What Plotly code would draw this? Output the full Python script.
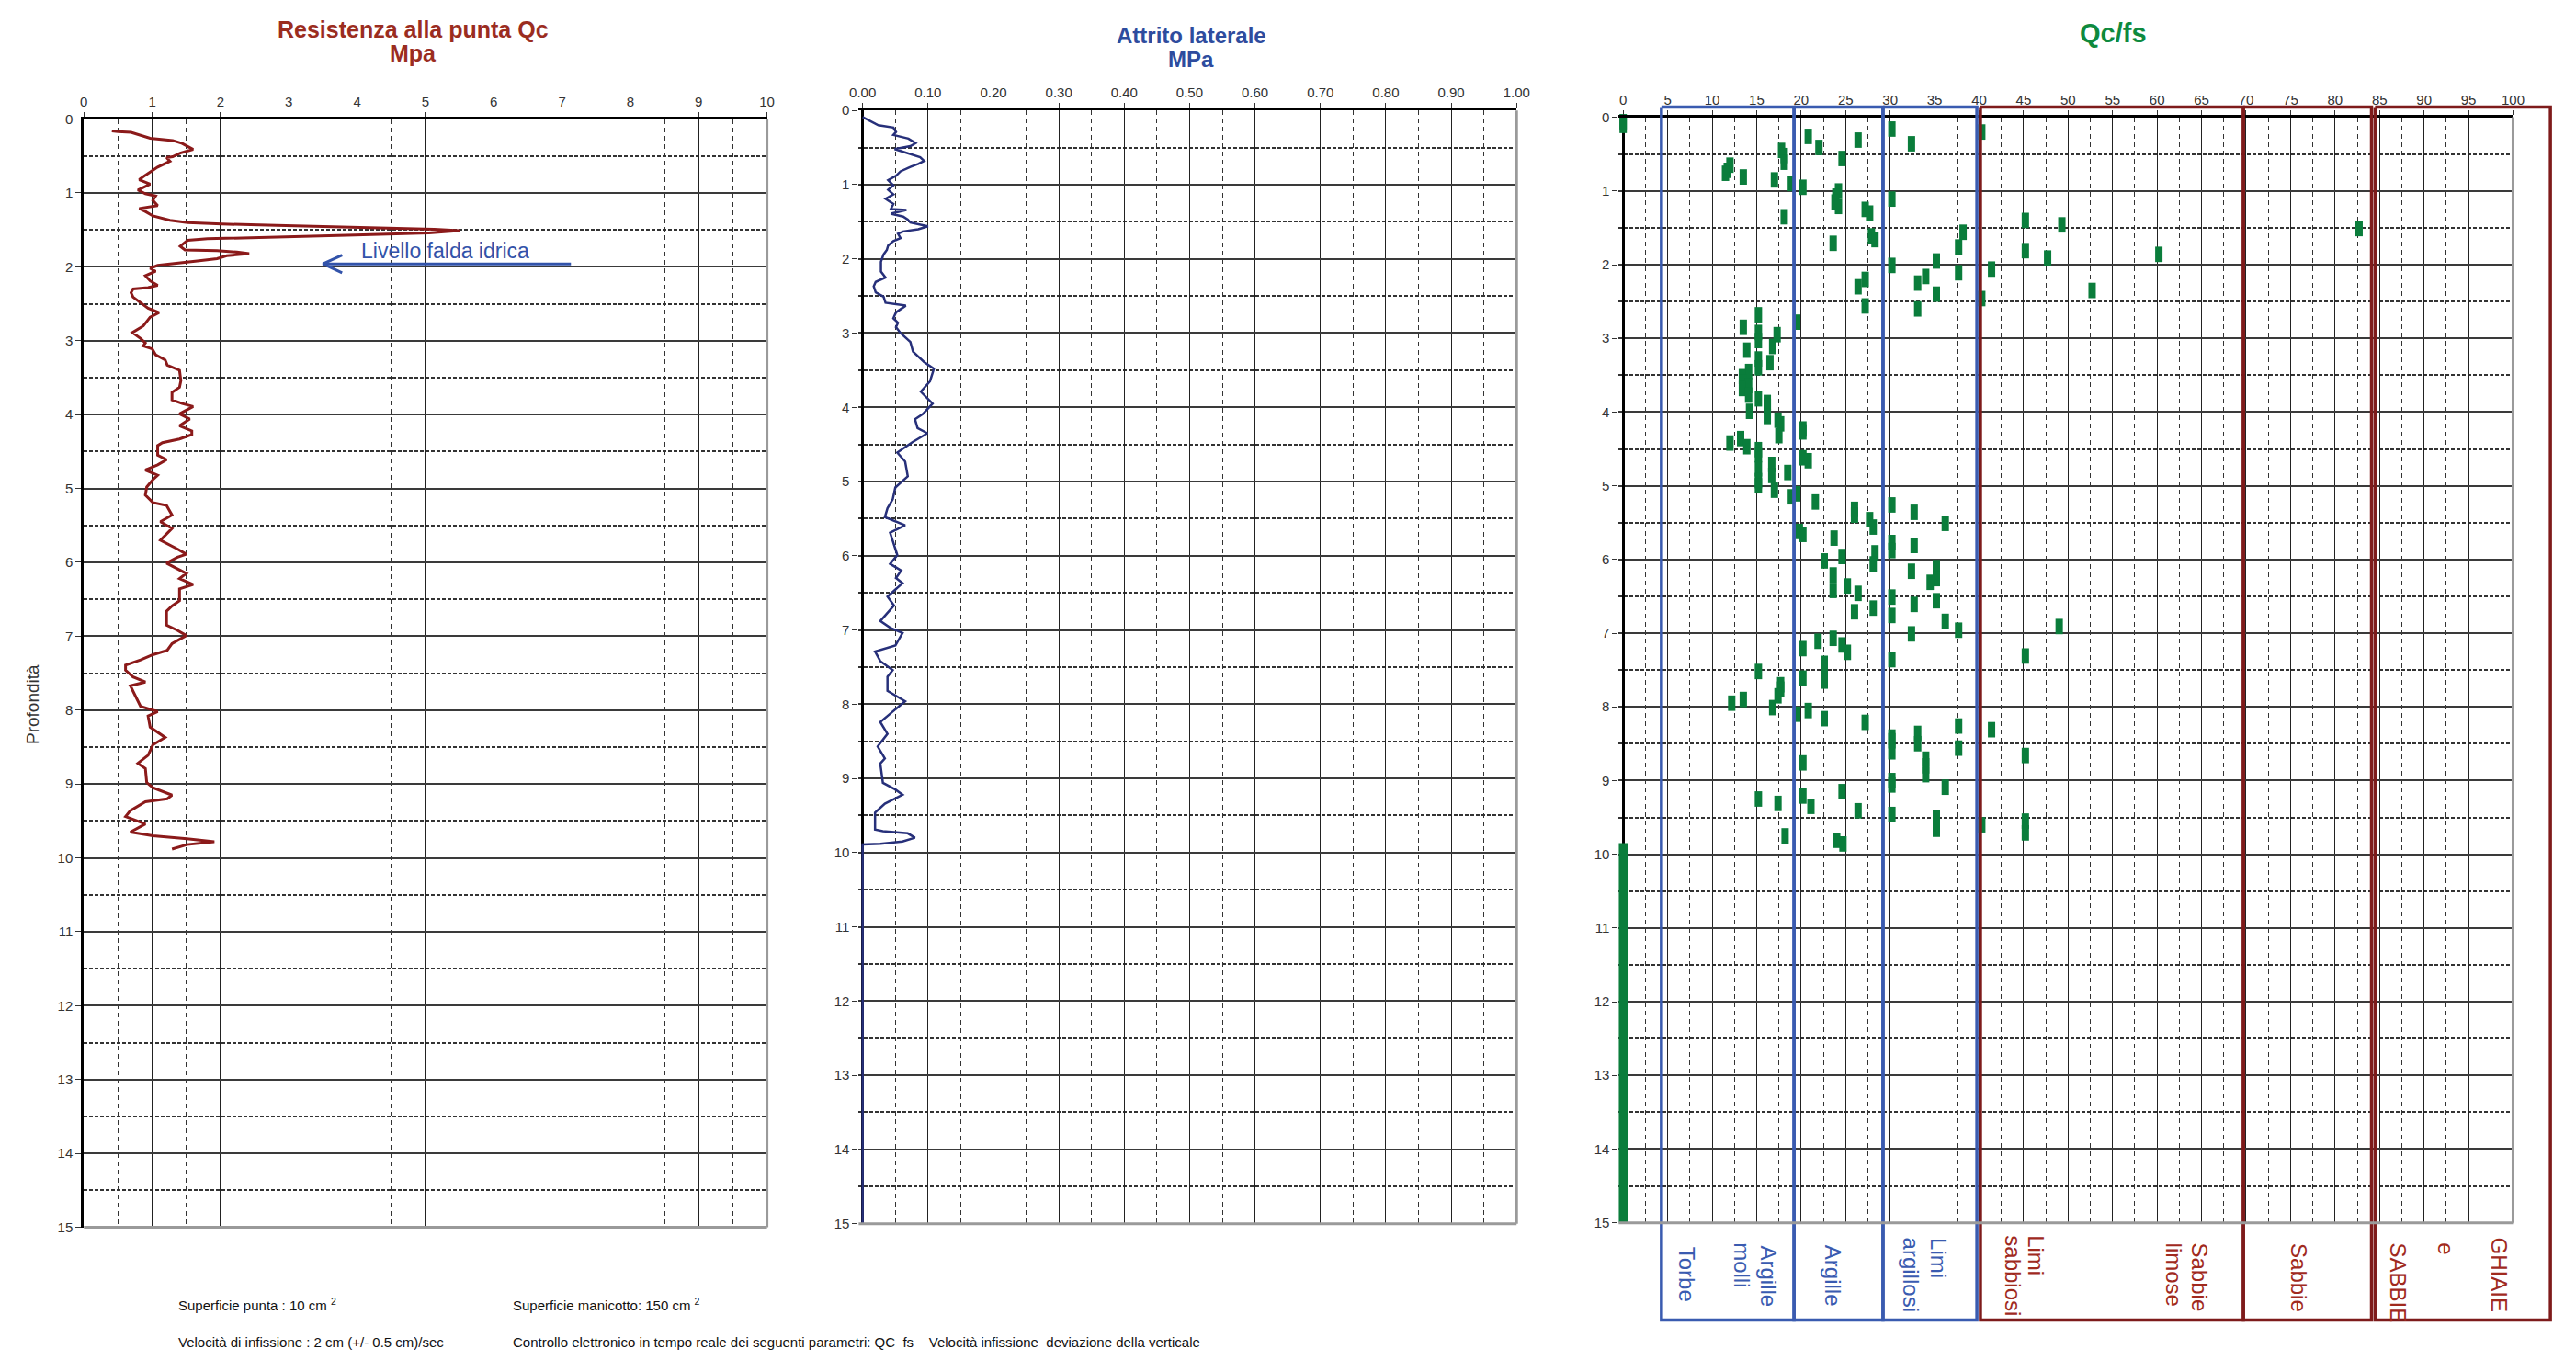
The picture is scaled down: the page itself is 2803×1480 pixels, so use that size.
import plotly.graph_objects as go

W, H = 2803, 1480
FONT = 'Liberation Sans, Arial, Helvetica, sans-serif'

# Resistenza alla punta Qc (MPa) lungo la profondità (m)
qc_depth = [0.16, 0.17, 0.18, 0.26, 0.29, 0.33, 0.41, 0.46, 0.51, 0.52, 0.57, 0.65, 0.78, 0.82, 0.88, 0.96,
            1.01, 1.04, 1.10, 1.17, 1.21, 1.25, 1.31, 1.37, 1.40, 1.42, 1.44, 1.46, 1.48, 1.49, 1.51, 1.54,
            1.57, 1.60, 1.62, 1.64, 1.72, 1.77, 1.78, 1.80, 1.82, 1.85, 1.89, 1.92, 1.96, 1.98, 2.02, 2.06,
            2.12, 2.19, 2.25, 2.28, 2.30, 2.35, 2.41, 2.49, 2.56, 2.62, 2.68, 2.80, 2.89, 2.97, 3.03, 3.07,
            3.11, 3.19, 3.26, 3.33, 3.40, 3.54, 3.63, 3.70, 3.80, 3.85, 3.89, 3.99, 4.06, 4.15, 4.22, 4.27,
            4.33, 4.38, 4.42, 4.55, 4.61, 4.68, 4.75, 4.82, 4.88, 4.98, 5.09, 5.19, 5.23, 5.36, 5.45, 5.54,
            5.70, 5.82, 5.89, 5.93, 6.01, 6.15, 6.22, 6.30, 6.36, 6.52, 6.59, 6.66, 6.85, 6.92, 6.99, 7.10,
            7.19, 7.25, 7.32, 7.39, 7.46, 7.55, 7.62, 7.67, 7.81, 7.95, 8.02, 8.08, 8.23, 8.37, 8.47, 8.61,
            8.72, 8.79, 8.98, 9.05, 9.15, 9.20, 9.24, 9.36, 9.44, 9.54, 9.65, 9.70, 9.74, 9.78, 9.82, 9.88]
qc_value = [0.41, 0.50, 0.69, 0.97, 1.30, 1.44, 1.60, 1.41, 1.30, 1.21, 1.26, 1.08, 0.87, 0.81, 0.97, 0.79,
            0.90, 1.05, 1.01, 1.08, 0.81, 0.90, 1.01, 1.26, 1.52, 2.02, 2.82, 3.61, 4.48, 5.13, 5.50, 5.05,
            3.97, 2.53, 1.81, 1.52, 1.41, 1.48, 1.95, 2.24, 2.42, 2.09, 1.95, 1.66, 1.30, 1.08, 0.97, 1.05,
            0.90, 0.97, 1.08, 0.94, 0.72, 0.69, 0.72, 0.83, 0.94, 1.10, 0.97, 0.87, 0.71, 0.83, 0.90, 0.87,
            1.00, 1.05, 1.19, 1.22, 1.40, 1.42, 1.40, 1.29, 1.29, 1.44, 1.60, 1.40, 1.55, 1.40, 1.58, 1.58,
            1.40, 1.15, 1.08, 1.08, 1.21, 1.08, 0.90, 1.08, 1.01, 0.92, 0.90, 1.01, 1.21, 1.29, 1.12, 1.29,
            1.12, 1.37, 1.50, 1.37, 1.21, 1.50, 1.40, 1.60, 1.40, 1.40, 1.29, 1.21, 1.21, 1.37, 1.50, 1.29,
            1.22, 1.01, 0.83, 0.61, 0.61, 0.72, 0.90, 0.68, 0.76, 0.83, 1.08, 0.94, 0.97, 1.19, 1.01, 0.94,
            0.79, 0.90, 0.92, 1.01, 1.29, 1.22, 0.90, 0.68, 0.61, 0.90, 0.68, 1.01, 1.51, 1.91, 1.51, 1.29]

# Attrito laterale fs (MPa)
fs_depth = [0.09, 0.15, 0.20, 0.23, 0.29, 0.33, 0.38, 0.44, 0.48, 0.52, 0.58, 0.63, 0.68, 0.72, 0.76, 0.82,
            0.88, 0.94, 1.01, 1.07, 1.13, 1.19, 1.26, 1.33, 1.34, 1.39, 1.43, 1.47, 1.51, 1.56, 1.60, 1.63,
            1.66, 1.72, 1.76, 1.82, 1.88, 1.94, 2.04, 2.17, 2.25, 2.31, 2.37, 2.45, 2.51, 2.59, 2.63, 2.72,
            2.80, 2.86, 2.92, 3.00, 3.12, 3.25, 3.39, 3.48, 3.65, 3.79, 3.95, 4.09, 4.16, 4.28, 4.35, 4.47,
            4.61, 4.73, 4.93, 5.08, 5.24, 5.36, 5.48, 5.59, 5.69, 5.90, 5.99, 6.11, 6.20, 6.30, 6.37, 6.55,
            6.67, 6.88, 6.97, 7.04, 7.21, 7.29, 7.42, 7.54, 7.63, 7.82, 7.96, 8.10, 8.24, 8.40, 8.57, 8.73,
            8.80, 9.06, 9.15, 9.22, 9.34, 9.46, 9.69, 9.71, 9.74, 9.80, 9.85, 9.88, 9.89, 15.0]
fs_value = [0.000, 0.013, 0.024, 0.047, 0.051, 0.047, 0.070, 0.081, 0.073, 0.049, 0.069, 0.088, 0.094, 0.085,
            0.073, 0.058, 0.051, 0.039, 0.047, 0.039, 0.047, 0.035, 0.047, 0.043, 0.067, 0.043, 0.062, 0.069,
            0.073, 0.100, 0.085, 0.062, 0.054, 0.058, 0.047, 0.039, 0.037, 0.032, 0.028, 0.028, 0.035, 0.020,
            0.017, 0.020, 0.032, 0.035, 0.066, 0.051, 0.047, 0.054, 0.051, 0.058, 0.073, 0.077, 0.094, 0.109,
            0.103, 0.089, 0.107, 0.092, 0.080, 0.084, 0.099, 0.076, 0.053, 0.065, 0.069, 0.050, 0.046, 0.038,
            0.034, 0.065, 0.042, 0.050, 0.053, 0.042, 0.059, 0.051, 0.061, 0.038, 0.048, 0.027, 0.042, 0.061,
            0.050, 0.019, 0.027, 0.046, 0.038, 0.038, 0.065, 0.046, 0.027, 0.038, 0.023, 0.034, 0.027, 0.031,
            0.050, 0.061, 0.034, 0.019, 0.019, 0.031, 0.069, 0.080, 0.061, 0.027, 0.000, 0.000]

# Rapporto Qc/fs
ratio_depth = [0.06, 0.11, 0.16, 0.20, 0.26, 0.31, 0.36, 0.41, 0.45, 0.52, 0.56, 0.61, 0.65, 0.72, 0.76, 0.81,
               0.85, 0.90, 0.95, 1.00, 1.07, 1.11, 1.15, 1.21, 1.25, 1.30, 1.35, 1.40, 1.46, 1.51, 1.56, 1.61,
               1.66, 1.71, 1.76, 1.81, 1.86, 1.91, 1.95, 2.01, 2.06, 2.11, 2.16, 2.20, 2.25, 2.30, 2.35, 2.40,
               2.46, 2.56, 2.60, 2.68, 2.78, 2.85, 2.92, 2.95, 3.03, 3.11, 3.16, 3.28, 3.33, 3.40, 3.45, 3.52,
               3.59, 3.64, 3.68, 3.77, 3.82, 3.87, 3.92, 3.99, 4.06, 4.11, 4.16, 4.23, 4.27, 4.32, 4.36, 4.42,
               4.47, 4.51, 4.58, 4.62, 4.66, 4.71, 4.77, 4.82, 4.86, 4.93, 5.00, 5.06, 5.11, 5.15, 5.22, 5.26,
               5.32, 5.36, 5.40, 5.46, 5.51, 5.56, 5.62, 5.66, 5.71, 5.77, 5.81, 5.88, 5.91, 5.96, 6.02, 6.06,
               6.11, 6.16, 6.21, 6.26, 6.31, 6.36, 6.42, 6.46, 6.51, 6.56, 6.61, 6.66, 6.71, 6.76, 6.84, 6.91,
               6.96, 7.01, 7.07, 7.11, 7.16, 7.21, 7.26, 7.31, 7.36, 7.41, 7.47, 7.52, 7.61, 7.65, 7.70, 7.76,
               7.85, 7.90, 7.95, 8.01, 8.05, 8.10, 8.16, 8.21, 8.26, 8.31, 8.36, 8.41, 8.46, 8.50, 8.56, 8.61,
               8.66, 8.71, 8.76, 8.80, 8.92, 9.00, 9.06, 9.09, 9.15, 9.21, 9.25, 9.31, 9.35, 9.41, 9.46, 9.51,
               9.55, 9.60, 9.66, 9.71, 9.75, 9.81, 9.86]
ratio_value = [0.0, 0.0, 30.2, 40.3, 20.8, 26.4, 32.4, 22.0, 17.8, 18.1, 24.6, 18.1, 12.0, 11.7, 11.5, 13.5,
               17.0, 18.9, 20.2, 24.2, 23.9, 30.2, 23.8, 24.2, 27.2, 27.7, 18.1, 45.2, 49.3, 82.7, 38.2, 27.9,
               28.3, 23.6, 37.7, 45.2, 60.2, 47.7, 35.2, 30.2, 41.4, 37.7, 34.0, 27.2, 33.1, 26.4, 52.7, 35.2,
               40.3, 27.2, 33.1, 15.2, 19.5, 13.5, 15.2, 17.3, 15.2, 16.8, 13.9, 15.2, 16.5, 15.2, 14.1, 13.4,
               13.5, 14.1, 13.4, 14.1, 15.2, 16.2, 16.2, 14.2, 16.2, 17.4, 17.7, 20.2, 20.2, 17.5, 13.2, 12.0,
               13.9, 15.2, 15.2, 20.2, 20.8, 16.7, 15.2, 18.5, 16.7, 15.2, 15.2, 17.0, 19.5, 18.9, 21.6, 30.2,
               26.0, 32.7, 26.0, 27.7, 36.2, 28.1, 19.8, 20.2, 23.7, 30.2, 32.7, 30.2, 28.3, 24.6, 22.6, 28.1,
               35.2, 32.4, 23.6, 35.2, 34.5, 25.2, 23.6, 26.4, 30.2, 35.2, 32.7, 28.1, 26.0, 30.2, 36.2, 49.0,
               37.7, 32.4, 23.6, 21.9, 24.6, 20.2, 25.2, 45.2, 30.2, 22.6, 22.6, 15.2, 20.2, 22.6, 17.7, 17.7,
               17.4, 13.5, 12.2, 16.8, 20.8, 19.5, 22.6, 27.2, 37.7, 41.4, 33.1, 30.2, 30.2, 33.1, 37.7, 30.2,
               45.2, 34.0, 20.2, 34.0, 34.0, 30.2, 30.2, 36.2, 24.6, 20.2, 15.2, 17.4, 21.1, 26.4, 30.2, 35.2,
               45.2, 40.3, 35.2, 45.2, 18.2, 24.0, 24.7]
ratio_zero_depth = [9.85, 15.0]
ratio_zero_value = [0.0, 0.0]

# Livello falda
arrow_x = [7.13, 3.5, None, 3.78, 3.5, 3.78]
arrow_y = [1.96, 1.96, None, 1.84, 1.96, 2.08]

# Classi litologiche (Qc/fs)
zone_blue = [4.3, 19.2, 29.2, 39.75]
zone_red = [40.15, 69.7, 84.1, None, 84.5, 104.2]
zone_top, zone_bottom = -0.14, 16.32
label_text = ['Torbe', 'molli', 'Argille', 'Argille', 'argillosi', 'Limi', 'sabbiosi', 'Limi',
              'limose', 'Sabbie', 'Sabbie', 'SABBIE', 'e', 'GHIAIE']
label_x = [7.1, 13.4, 16.3, 23.6, 32.4, 35.5, 43.8, 46.4, 61.9, 64.8, 76.0, 87.1, 92.5, 98.5]
label_top = [15.3, 15.25, 15.28, 15.28, 15.18, 15.18, 15.15, 15.15, 15.25, 15.25, 15.25, 15.25, 15.25, 15.18]

BLUE = '#3A5BB0'
RED = '#7E1B1B'
GREEN = '#0A7D3B'


def px(x0, x1):
    return [x0 / W, x1 / W]


def py(top, bottom):
    return [1 - bottom / H, 1 - top / H]


def box_path(edges):
    xs, ys = [], []
    for a, b in zip(edges[:-1], edges[1:]):
        if a is None or b is None:
            continue
        xs += [a, b, b, a, a, None]
        ys += [zone_top, zone_top, zone_bottom, zone_bottom, zone_top, None]
    return xs, ys


tickfont = dict(family=FONT, size=15, color='#333')


def xaxis_style(domain, rng, dtick, minor, zero=False, fmt=None):
    d = dict(domain=domain, range=rng, side='top', dtick=dtick, tick0=0, ticks='outside', ticklen=5,
             tickcolor='#333', tickfont=tickfont, showline=True, linecolor='black', linewidth=3,
             showgrid=True, gridcolor='#222', gridwidth=1, zeroline=zero, zerolinecolor='black',
             zerolinewidth=3, fixedrange=True,
             minor=dict(dtick=minor, tick0=0, showgrid=True, gridcolor='#333', gridwidth=1,
                        griddash='5px,4px'))
    if fmt:
        d['tickformat'] = fmt
    return d


def yaxis_style(domain, line=True):
    return dict(domain=domain, range=[15, 0], dtick=1, tick0=0, ticks='outside', ticklen=6,
                tickcolor='#333', tickfont=tickfont, showline=line, linecolor='black', linewidth=3,
                showgrid=True, gridcolor='#3a3a3a', gridwidth=2, zeroline=False, fixedrange=True,
                minor=dict(dtick=0.5, tick0=0, showgrid=True, gridcolor='#333', gridwidth=1.5,
                           griddash='4px,2px'))


fig = go.Figure()

fig.add_trace(go.Scatter(x=qc_value, y=qc_depth, xaxis='x', yaxis='y', mode='lines',
                         line=dict(color='#8B1A1A', width=3)))
fig.add_trace(go.Scatter(x=arrow_x, y=arrow_y, xaxis='x', yaxis='y', mode='lines',
                         line=dict(color='#3253AA', width=3)))
fig.add_trace(go.Scatter(x=fs_value, y=fs_depth, xaxis='x2', yaxis='y2', mode='lines',
                         line=dict(color='#27307A', width=2.5)))
fig.add_trace(go.Scatter(x=ratio_zero_value, y=ratio_zero_depth, xaxis='x3', yaxis='y3', mode='lines',
                         line=dict(color=GREEN, width=10)))
fig.add_trace(go.Scatter(x=ratio_value, y=ratio_depth, xaxis='x3', yaxis='y3', mode='markers',
                         cliponaxis=False,
                         marker=dict(symbol='line-ns', size=12, line=dict(color=GREEN, width=8))))

bx, by = box_path(zone_blue)
fig.add_trace(go.Scatter(x=bx, y=by, xaxis='x4', yaxis='y4', mode='lines',
                         line=dict(color=BLUE, width=3.5)))
rx, ry = box_path(zone_red)
fig.add_trace(go.Scatter(x=rx, y=ry, xaxis='x4', yaxis='y4', mode='lines',
                         line=dict(color=RED, width=3.5)))

fig.update_layout(
    width=W, height=H, margin=dict(l=0, r=0, t=0, b=0),
    paper_bgcolor='white', plot_bgcolor='rgba(0,0,0,0)',
    showlegend=False, hovermode=False,
    xaxis=xaxis_style(px(82, 832), [0, 10], 1, 0.5),
    yaxis=yaxis_style(py(122, 1342)),
    xaxis2=xaxis_style(px(932.7, 1655), [-0.006, 1.0], 0.1, 0.05, zero=True, fmt='.2f'),
    yaxis2=yaxis_style(py(112.5, 1338), line=False),
    xaxis3=xaxis_style(px(1767.1, 2749), [-0.5, 100], 5, 2.5, zero=True),
    yaxis3=yaxis_style(py(120, 1337), line=False),
    xaxis4=dict(domain=px(1760.3, 2794.9), range=[-1.2, 104.7], visible=False, anchor='y4',
                fixedrange=True),
    yaxis4=dict(domain=py(100, 1455), range=[16.455, -0.2465], visible=False, anchor='x4',
                fixedrange=True),
)
fig.update_layout(xaxis=dict(anchor='y'), yaxis=dict(anchor='x'),
                  xaxis2=dict(anchor='y2'), yaxis2=dict(anchor='x2'),
                  xaxis3=dict(anchor='y3'), yaxis3=dict(anchor='x3'))

# bordi destro e inferiore (grigi)
for xr, yr in [('x', 'y'), ('x2', 'y2'), ('x3', 'y3')]:
    fig.add_shape(type='line', xref=xr + ' domain', yref=yr + ' domain', x0=1, x1=1, y0=0, y1=1,
                  line=dict(color='#9a9a9a', width=3))
    fig.add_shape(type='line', xref=xr + ' domain', yref=yr + ' domain', x0=0, x1=1, y0=0, y1=0,
                  line=dict(color='#9a9a9a', width=3))


def note(text, x, y, size=24, color='#333', bold=False, xanchor='center', **kw):
    fig.add_annotation(text=f'<b>{text}</b>' if bold else text, x=x / W, y=1 - y / H,
                       xref='paper', yref='paper', showarrow=False, xanchor=xanchor, yanchor='middle',
                       font=dict(family=FONT, size=size, color=color), **kw)


note('Resistenza alla punta Qc', 443, 23, size=25, color='#9B2D1F', bold=True)
note('Mpa', 443, 50, size=25, color='#9B2D1F', bold=True)
note('Attrito laterale', 1298, 30, color='#2E4C9E', bold=True)
note('MPa', 1298, 56, color='#2E4C9E', bold=True)
note('Qc/fs', 2310, 27, size=29, color='#0E8A3E', bold=True)
note('Profondità', 25, 766, size=19, color='#333', textangle=-90)

note('Superficie punta : 10 cm <sup>2</sup>', 184, 1427, size=15, color='#111', xanchor='left')
note('Superficie manicotto: 150 cm <sup>2</sup>', 551, 1427, size=15, color='#111', xanchor='left')
note('Velocità di infissione : 2 cm (+/- 0.5 cm)/sec', 184, 1468, size=15, color='#111', xanchor='left')
note('Controllo elettronico in tempo reale dei seguenti parametri: QC  fs    Velocità infissione  '
     'deviazione della verticale', 551, 1468, size=15, color='#111', xanchor='left')

fig.add_annotation(text='Livello falda idrica', x=4.03, y=1.78, xref='x', yref='y', showarrow=False,
                   xanchor='left', yanchor='middle', font=dict(family=FONT, size=23, color='#3253AA'))

for i, t in enumerate(label_text):
    col = BLUE if label_x[i] < 40 else '#A02A1E'
    fig.add_annotation(text=t, x=label_x[i], y=label_top[i], xref='x4', yref='y4', showarrow=False,
                       textangle=90, xanchor='center', yanchor='top',
                       font=dict(family=FONT, size=24, color=col))

fig.write_html("out.html", config={'displayModeBar': False},
               post_script="document.body.style.margin='0px';")
